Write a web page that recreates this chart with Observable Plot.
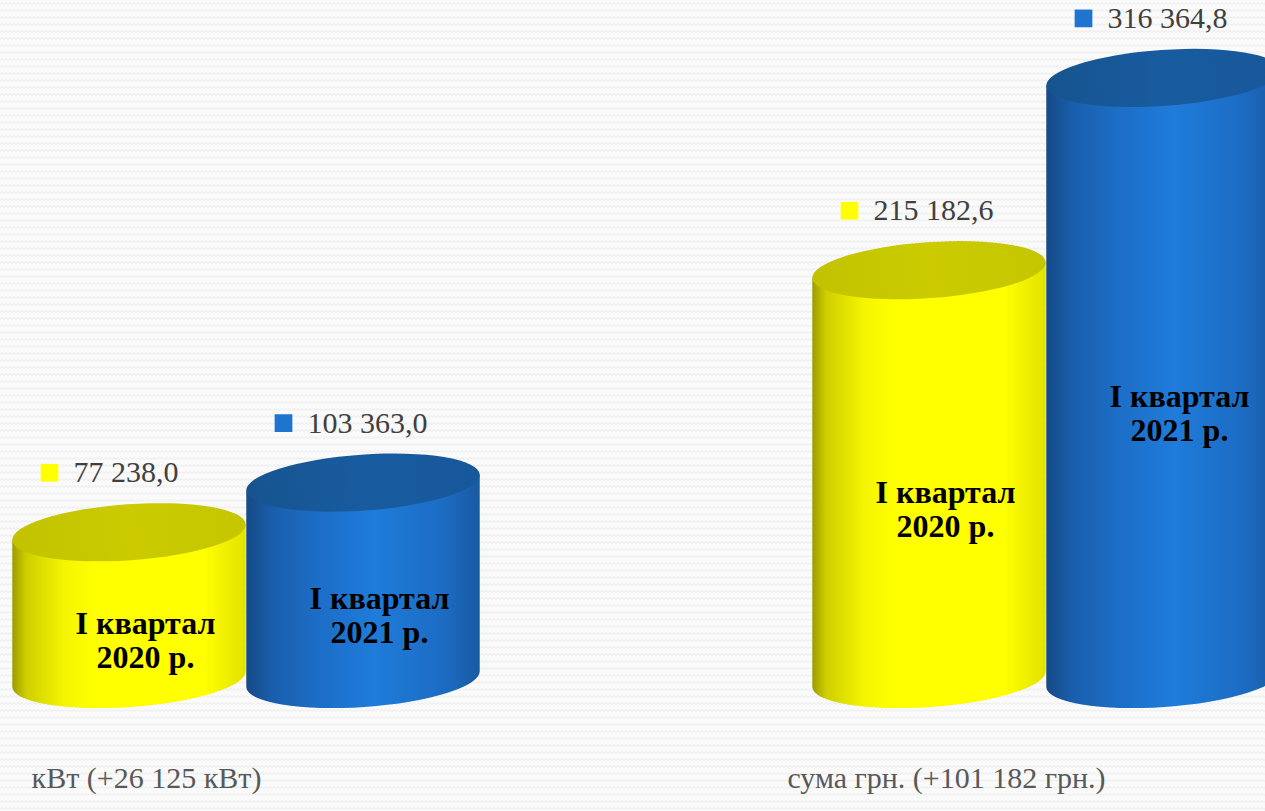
<!DOCTYPE html>
<html>
<head>
<meta charset="utf-8">
<script src="https://cdn.jsdelivr.net/npm/d3@7"></script>
<script src="https://cdn.jsdelivr.net/npm/@observablehq/plot@0.6"></script>
<style>
  html, body { margin: 0; padding: 0; overflow: hidden; width: 1265px; height: 811px; }
  body {
    background-color: #fafafa;
    background-image: url("data:image/svg+xml,%3Csvg xmlns='http://www.w3.org/2000/svg' width='8' height='7'%3E%3Cpath d='M0 4.5 L2 2.5 L4 4.5 L6 2.5 L8 4.5' fill='none' stroke='%23f0f0f0' stroke-width='1.2'/%3E%3C/svg%3E");
  }
  #chart { width: 1265px; height: 811px; overflow: hidden; }
</style>
</head>
<body>
<div id="chart"></div>
<script>
// ---- data ----
const groups = ["кВт (+26 125 кВт)", "сума грн. (+101 182 грн.)"];
const years = ["2020", "2021"];
const barLabels = ["I квартал\n2020 р.", "I квартал\n2021 р."];
const kwValues = [77238.0, 103363.0];
const uahValues = [215182.6, 316364.8];
const colors = ["#ffff00", "#1f74d0"];

const rows = groups.flatMap((g, gi) =>
  years.map((yr, yi) => ({
    group: g,
    year: yr,
    label: barLabels[yi],
    value: (gi === 0 ? kwValues : uahValues)[yi]
  }))
);

const fmt = d3.formatLocale({decimal: ",", thousands: " ", grouping: [3], currency: ["", ""]}).format(",.1f");

// ---- cylinder styling ----
const cylStyles = [
  { // yellow
    body: [[0, "#9c9c00"], [0.06, "#cfcf00"], [0.22, "#f4f400"], [0.35, "#ffff00"], [0.82, "#ffff00"], [1, "#e2e200"]],
    top: [[0, "#c2c200"], [0.5, "#cbcb00"], [1, "#c6c600"]]
  },
  { // blue
    body: [[0, "#154a86"], [0.12, "#1a5fae"], [0.3, "#1c6dc6"], [0.55, "#1f7cda"], [0.85, "#1c6bc2"], [1, "#195aa3"]],
    top: [[0, "#16548f"], [0.5, "#185b9f"], [1, "#17589b"]]
  }
];
const tilt = 4; // degrees
const ry = 28;
let gid = 0;

function cylinders(index, scales, values) {
  const ns = "http://www.w3.org/2000/svg";
  const el = (tag, attrs) => {
    const e = document.createElementNS(ns, tag);
    for (const k in attrs) e.setAttribute(k, attrs[k]);
    return e;
  };
  const g = el("g", {});
  const defs = el("defs", {});
  g.appendChild(defs);
  const bw = typeof scales.x.bandwidth === "function" ? scales.x.bandwidth() : scales.x.bandwidth;
  const rad = tilt * Math.PI / 180;
  for (const i of index) {
    const st = cylStyles[years.indexOf(rows[i].year)];
    const idB = "cylb" + (gid++), idT = "cylt" + (gid++);
    const lgB = el("linearGradient", {id: idB, x1: 0, y1: 0, x2: 1, y2: 0});
    st.body.forEach(([o, c]) => lgB.appendChild(el("stop", {offset: o, "stop-color": c})));
    const lgT = el("linearGradient", {id: idT, x1: 0, y1: 0, x2: 1, y2: 0});
    st.top.forEach(([o, c]) => lgT.appendChild(el("stop", {offset: o, "stop-color": c})));
    defs.appendChild(lgB); defs.appendChild(lgT);
    const rx = bw / 2;
    const cx = values.x[i] + rx;
    const yT = values.y2[i], yB = values.y1[i];
    const ddx = rx * Math.cos(rad), ddy = rx * Math.sin(rad);
    const d = `M${cx - ddx},${yT + ddy} L${cx - ddx},${yB + ddy} ` +
      `A${rx},${ry} ${-tilt} 0 0 ${cx + ddx},${yB - ddy} ` +
      `L${cx + ddx},${yT - ddy} Z`;
    g.appendChild(el("path", {d, fill: `url(#${idB})`}));
    g.appendChild(el("ellipse", {cx, cy: yT, rx, ry, fill: `url(#${idT})`, transform: `rotate(${-tilt} ${cx} ${yT})`}));
  }
  return g;
}

const plot = Plot.plot({
  width: 1280,
  height: 811,
  marginTop: 14,
  marginBottom: 132,
  marginLeft: 12,
  marginRight: 0,
  style: {background: "transparent", maxWidth: "none", overflow: "visible"},
  facet: {marginTop: 0, marginBottom: 0, marginLeft: 0, marginRight: 0},
  fx: {domain: groups, paddingInner: 0.415, paddingOuter: 0, axis: null, label: null},
  x: {domain: years, padding: 0, axis: null, label: null},
  y: {domain: [0, 350000], axis: null, label: null},
  color: {domain: years, range: colors},
  marks: [
    Plot.barY(rows, {fx: "group", x: "year", y: "value", fill: "year", render: cylinders}),
    Plot.text(rows, {
      fx: "group", x: "year", y: d => d.value / 2, text: "label",
      dx: 16, dy: 34, fontSize: 32, fontWeight: "bold",
      fontFamily: "Liberation Serif", fill: "#000000", lineHeight: 1.05
    }),
    Plot.dot(rows, {fx: "group", x: "year", y: "value", symbol: "square", r: 10, fill: "year", dx: -80, dy: -60}),
    Plot.text(rows, {
      fx: "group", x: "year", y: "value", text: d => fmt(d.value),
      textAnchor: "start", dx: -56, dy: -60, fontSize: 30,
      fontFamily: "Liberation Serif", fill: "#404040"
    }),
    Plot.text(groups, {
      fx: d => d, text: d => d, frameAnchor: "bottom", dx: -100, dy: 108,
      fontSize: 30, fontFamily: "Liberation Serif", fill: "#595959"
    })
  ]
});
document.getElementById("chart").appendChild(plot);
</script>
</body>
</html>
